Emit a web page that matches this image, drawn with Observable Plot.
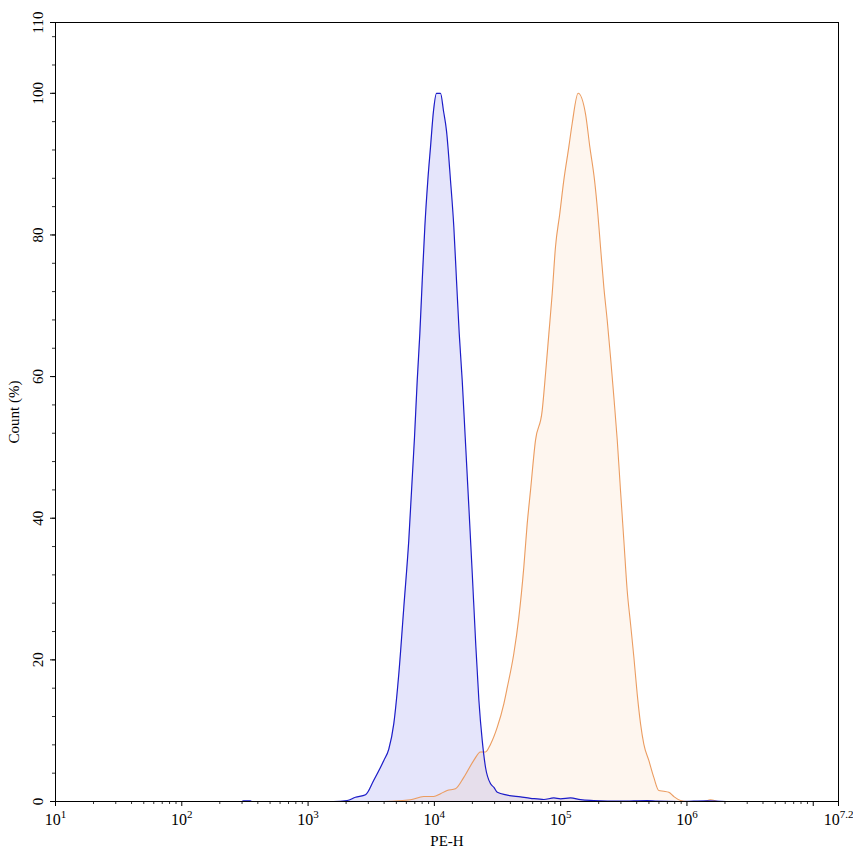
<!DOCTYPE html>
<html>
<head>
<meta charset="utf-8">
<script src="https://cdn.jsdelivr.net/npm/d3@7"></script>
<script src="https://cdn.jsdelivr.net/npm/@observablehq/plot@0.6"></script>
<style>
  html, body { margin: 0; padding: 0; background: #fff; }
  #chart svg { display: block; }
</style>
</head>
<body>
<div id="chart"></div>
<script>
// ---- Data (PE-H value, Count %) ----
const blueX = [300, 308, 350, 358, 1589, 2042, 2373, 2851, 3313, 3741, 3980, 4357, 4773, 5228,
  5727, 6273, 6960, 7314, 7674, 8017, 8402, 8873, 9320, 9841,
  10398, 11187, 11813, 12474, 13420, 14260, 14970, 15730, 16620, 17550,
  18750, 19950, 21190, 22510, 23940, 25420, 27860, 29600, 31490, 37780,
  48120, 57700, 65200, 73600, 88300, 99800, 119700, 143600, 182900, 297600,
  484000, 580800, 889000, 1445000, 2046000];
const blueY = [0, 0.1, 0.1, 0, 0, 0.14, 0.6, 0.95, 3.0, 4.8, 5.8, 7.4, 11.0, 18.0,
  27.4, 36.9, 51.4, 59.4, 66.1, 73.6, 81.1, 87.7, 92.4, 97.5,
  100, 100, 97.5, 94.7, 87.7, 81.1, 73.6, 66.1, 59.4, 51.4,
  41.6, 32.2, 22.7, 14.3, 8.6, 4.8, 2.5, 2.0, 1.3, 0.9,
  0.65, 0.45, 0.38, 0.28, 0.5, 0.38, 0.5, 0.26, 0.14, 0.04,
  0.14, 0.05, 0, 0.1, 0];

const orangeX = [3980, 6470, 8240, 9880, 11190, 12630, 14690, 17100, 20520, 23180,
  25420, 27860, 31490, 35490, 37780, 42590, 46650, 51080, 54330, 57700,
  63200, 71400, 75900, 80600, 85700, 91000, 98400, 105900, 116000, 123300,
  137600, 157300, 170300, 185500, 196900, 206800, 219800, 233800, 248400, 263800,
  280600, 297800, 316400, 336300, 357500, 379800, 403600, 428900, 455400, 498900,
  546500, 598600, 655800, 718300, 787000, 889000, 1004000, 1352000, 1537000, 1747000];
const orangeY = [0, 0.24, 0.7, 0.7, 1.1, 1.55, 1.8, 3.4, 5.8, 7.0,
  7.0, 8.1, 10.5, 13.8, 16.1, 20.9, 26.0, 33.1, 39.2, 43.9,
  51.0, 55.2, 60.4, 66.0, 71.7, 78.3, 83.0, 87.7, 92.4, 95.7,
  100, 97.1, 92.4, 87.7, 83.0, 78.3, 72.6, 67.9, 62.7, 57.1,
  51.0, 43.9, 36.9, 29.8, 25.1, 20.4, 15.2, 11.0, 8.1, 5.8,
  3.4, 1.55, 1.45, 1.3, 0.7, 0.14, 0, 0, 0.24, 0];

// ---- Axes ----
const xDomain = [10, Math.pow(10, 7.2)];
const xMajorExponents = [1, 2, 3, 4, 5, 6, 7, 7.2];
const xLabelledExponents = ["1", "2", "3", "4", "5", "6", "7.2"];
const yMajorTicks = [0, 20, 40, 60, 80, 100, 110];
const yMinorStep = 4;
const xLabel = "PE-H";
const yLabel = "Count (%)";

const blue = blueX.map((x, i) => ({x, y: blueY[i]}));
const orange = orangeX.map((x, i) => ({x, y: orangeY[i]}));

const xMajor = xMajorExponents.map(e => Math.pow(10, e));
const xMinor = [];
for (let e = 1; e < 8; e++) for (let k = 2; k <= 9; k++) {
  const v = k * Math.pow(10, e);
  if (v <= xDomain[1]) xMinor.push(v);
}
const yMinor = d3.range(0, 111, yMinorStep);

// tick label pieces: "10" base plus superscript exponent
const baseSize = 16, expSize = 11;
const expWidth = s => s.length * expSize * 0.5 - (s.includes(".") ? expSize * 0.25 : 0);
const xLabels = xLabelledExponents.map(s => {
  const w = baseSize + expWidth(s);
  return {value: Math.pow(10, +s), exp: s, left: -w / 2};
});

const chart = Plot.plot({
  width: 853,
  height: 856,
  marginTop: 22,
  marginBottom: 55,
  marginLeft: 55,
  marginRight: 15,
  style: {fontFamily: "'Liberation Serif', 'Times New Roman', serif", fontSize: "15px", background: "#fff", color: "#000"},
  x: {type: "log", domain: xDomain},
  y: {domain: [0, 110]},
  marks: [
    Plot.areaY(blue, {x: "x", y: "y", fill: "#0000dc", fillOpacity: 0.1, curve: "monotone-x"}),
    Plot.areaY(orange, {x: "x", y: "y", fill: "#f08c32", fillOpacity: 0.08, curve: "monotone-x"}),
    Plot.lineY(orange, {x: "x", y: "y", stroke: "#eb9c60", strokeWidth: 1.1, curve: "monotone-x"}),
    Plot.lineY(blue, {x: "x", y: "y", stroke: "#1c1cc8", strokeWidth: 1.2, curve: "monotone-x"}),
    // x axis minor + major
    Plot.axisX({ticks: xMinor, tickSize: 3, tickFormat: () => "", label: null, stroke: "#333"}),
    Plot.axisX({ticks: xMajor, tickSize: 5, tickFormat: () => "",
      label: xLabel, labelAnchor: "center", labelArrow: "none", labelOffset: 44, fontSize: 15}),
    // x tick labels: base and superscript
    ...xLabels.map(l => Plot.text([l], {x: "value", frameAnchor: "bottom", text: () => "10",
      textAnchor: "start", lineAnchor: "top", dx: l.left, dy: 12, fontSize: baseSize})),
    ...xLabels.map(l => Plot.text([l], {x: "value", frameAnchor: "bottom", text: "exp",
      textAnchor: "start", lineAnchor: "top", dx: l.left + baseSize, dy: 9, fontSize: expSize})),
    // y axis minor + major
    Plot.axisY({ticks: yMinor, tickSize: 3, tickFormat: () => "", label: null, stroke: "#333"}),
    Plot.axisY({ticks: yMajorTicks, tickSize: 5, tickFormat: () => "",
      label: yLabel, labelAnchor: "center", labelArrow: "none", labelOffset: 47, fontSize: 15}),
    Plot.text(yMajorTicks, {x: () => xDomain[0], y: d => d, text: d => String(d), rotate: -90,
      dx: -17, textAnchor: "middle", lineAnchor: "middle", fontSize: 15}),
    Plot.frame({stroke: "#000", strokeWidth: 1})
  ]
});

document.getElementById("chart").appendChild(chart);
</script>
</body>
</html>
